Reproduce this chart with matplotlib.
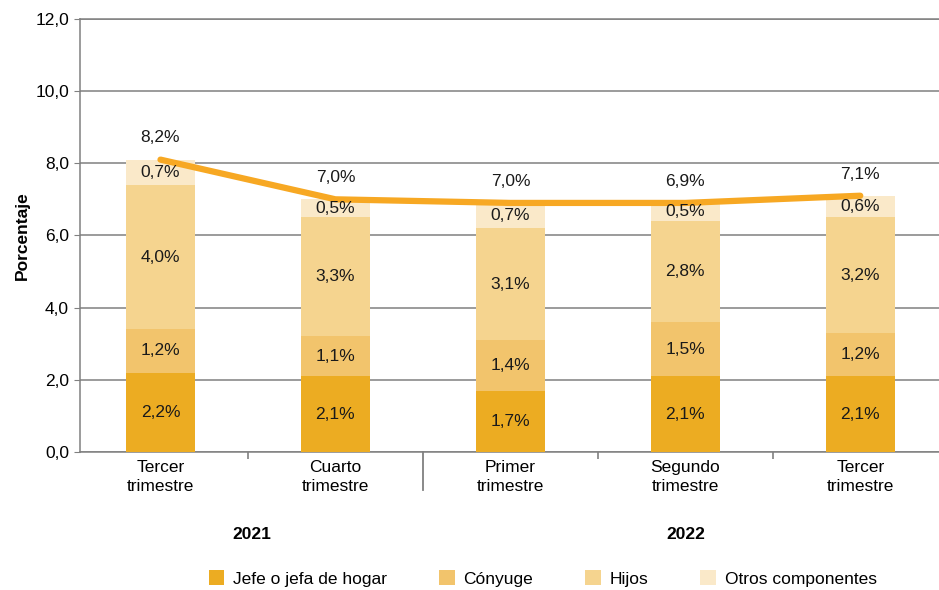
import numpy as np
import matplotlib.pyplot as plt

trimestres = ["Tercer\ntrimestre", "Cuarto\ntrimestre", "Primer\ntrimestre",
              "Segundo\ntrimestre", "Tercer\ntrimestre"]
jefe = [2.2, 2.1, 1.7, 2.1, 2.1]
conyuge = [1.2, 1.1, 1.4, 1.5, 1.2]
hijos = [4.0, 3.3, 3.1, 2.8, 3.2]
otros = [0.7, 0.5, 0.7, 0.5, 0.6]
total = [8.2, 7.0, 7.0, 6.9, 7.1]
series_names = ["Jefe o jefa de hogar", "Cónyuge", "Hijos", "Otros componentes"]
colores = ["#ECAC22", "#F2C46C", "#F5D48F", "#FAE9C9"]

plt.rcParams['font.family'] = ['Liberation Sans', 'DejaVu Sans']
fs = 12.5

fig = plt.figure(figsize=(9.39, 5.9), dpi=100)
ax = fig.add_axes([0.0852, 0.234, 0.9148, 0.734])

x = np.arange(len(trimestres))
w = 0.394
bottom = np.zeros(len(x))
for vals, name, c in zip([jefe, conyuge, hijos, otros], series_names, colores):
    vals = np.array(vals)
    ax.bar(x, vals, w, bottom=bottom, color=c, label=name, zorder=3)
    for xi, b, v in zip(x, bottom, vals):
        ax.text(xi, b + v / 2, f"{v:.1f}%".replace(".", ","), ha="center",
                va="center", fontsize=fs, color="#1a1a1a", zorder=5)
    bottom = bottom + vals

# linea del total (altura de la pila)
ax.plot(x, bottom, color="#F7A823", lw=4.5, solid_capstyle="round", zorder=4)
for xi, b, t in zip(x, bottom, total):
    ax.text(xi, b + 0.6, f"{t:.1f}%".replace(".", ","), ha="center",
            va="center", fontsize=fs, color="#1a1a1a", zorder=5)

ax.set_ylim(0, 12)
ax.set_xlim(-0.46, 4.45)
ax.set_yticks(np.arange(0, 12.1, 2))
ax.set_yticklabels([f"{v:.1f}".replace(".", ",") for v in np.arange(0, 12.1, 2)],
                   fontsize=fs)
ax.yaxis.grid(True, color="#808080", lw=1.1, zorder=1)
ax.tick_params(axis="y", length=4, color="#808080", pad=4)

ax.set_xticks(x)
ax.set_xticklabels(trimestres, fontsize=fs, linespacing=1.35)
ax.tick_params(axis="x", length=0, pad=6)
ax.set_xticks([0.5, 2.5, 3.5], minor=True)
ax.tick_params(axis="x", which="minor", length=5, color="#808080", width=1.2)

for s in ["left", "top", "bottom"]:
    ax.spines[s].set_color("#808080")
    ax.spines[s].set_linewidth(1.1)
ax.spines["right"].set_visible(False)

# separador entre años
ax.plot([1.5, 1.5], [0, -1.05], color="#808080", lw=1.3, clip_on=False)

ax.text(0.52, -2.3, "2021", ha="center", va="center", fontsize=fs,
        fontweight="bold")
ax.text(3.0, -2.3, "2022", ha="center", va="center", fontsize=fs,
        fontweight="bold")

ax.set_ylabel("Porcentaje", fontsize=fs, fontweight="bold", labelpad=4)

handles, labels = ax.get_legend_handles_labels()
fig.legend(handles, labels, loc="center", bbox_to_anchor=(0.578, 0.02), ncol=4,
           frameon=False, fontsize=fs, handlelength=0.9, handleheight=1.0,
           columnspacing=3.0, handletextpad=0.5)

fig.savefig("out.png", dpi=100)
